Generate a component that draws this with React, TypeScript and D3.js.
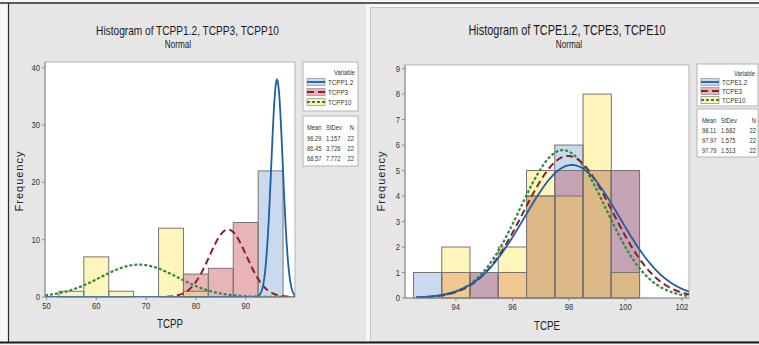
import React from 'react';
import * as d3 from 'd3';

// ---------- Left chart data ----------
const leftTitle = 'Histogram of TCPP1.2, TCPP3, TCPP10';
const leftXLabel = 'TCPP';
const leftBinStarts = [52.5, 57.5, 62.5, 67.5, 72.5, 77.5, 82.5, 87.5, 92.5];
const leftBinWidth = 5;
const tcpp12Counts = [0, 0, 0, 0, 0, 0, 0, 0, 22];
const tcpp3Counts = [0, 0, 0, 0, 0, 4, 5, 13, 0];
const tcpp10Counts = [1, 7, 1, 0, 12, 1, 0, 0, 0];
const leftVariables = ['TCPP1.2', 'TCPP3', 'TCPP10'];
const leftMeans = [96.29, 86.45, 68.57];
const leftStDevs = [1.157, 3.726, 7.772];
const leftN = [22, 22, 22];
const leftXTicks = [50, 60, 70, 80, 90];
const leftYTicks = [0, 10, 20, 30, 40];

// ---------- Right chart data ----------
const rightTitle = 'Histogram of TCPE1.2, TCPE3, TCPE10';
const rightXLabel = 'TCPE';
const rightBinStarts = [92.5, 93.5, 94.5, 95.5, 96.5, 97.5, 98.5, 99.5];
const rightBinWidth = 1;
const tcpe12Counts = [1, 0, 1, 0, 4, 6, 5, 5];
const tcpe3Counts = [0, 1, 1, 1, 4, 5, 5, 5];
const tcpe10Counts = [0, 2, 0, 2, 5, 4, 8, 1];
const rightVariables = ['TCPE1.2', 'TCPE3', 'TCPE10'];
const rightMeans = [98.11, 97.97, 97.79];
const rightStDevs = [1.682, 1.575, 1.513];
const rightN = [22, 22, 22];
const rightXTicks = [94, 96, 98, 100, 102];
const rightYTicks = [0, 1, 2, 3, 4, 5, 6, 7, 8, 9];

// ---------- styles ----------
const FONT = "'Liberation Sans', Arial, sans-serif";
const SX = 0.78; // horizontal condensing to imitate the narrow UI font
const LINE_COLORS = ['#1f5ea8', '#8e1d27', '#2c8a3c'];
const LINE_DASH = ['', '7,4', '3,2'];
const LINE_WIDTH = [1.8, 2, 2.2];
const SWATCH_FILL = ['#c9daef', '#e8b3b8', '#fbf3b6'];
const MASK_FILL: Record<number, string> = {
  1: '#c9daef',
  2: '#e7b4b7',
  4: '#fdf5b9',
  3: '#c6a2b5',
  5: '#d5e0c8',
  6: '#f1c892',
  7: '#dcb986',
};

function T(props: {
  x: number;
  y: number;
  size: number;
  anchor?: 'start' | 'middle' | 'end';
  fill?: string;
  sx?: number;
  children: React.ReactNode;
}) {
  const sx = props.sx ?? SX;
  return (
    <text
      transform={`translate(${props.x},${props.y}) scale(${sx},1)`}
      textAnchor={props.anchor || 'start'}
      fontSize={props.size}
      fill={props.fill || '#333'}
    >
      {props.children}
    </text>
  );
}

type PanelProps = {
  title: string;
  titleSize: number;
  cx: number;
  subX: number;
  xLabel: string;
  xLabelX: number;
  xLabelY: number;
  yLabelX: number;
  plot: { x0: number; x1: number; y0: number; y1: number };
  xDomain: [number, number];
  yDomain: [number, number];
  curveRange: [number, number];
  binStarts: number[];
  binWidth: number;
  counts: number[][];
  variables: string[];
  means: number[];
  stdevs: number[];
  ns: number[];
  xTicks: number[];
  yTicks: number[];
  legend: {
    x0: number; x1: number; y0: number; y1: number;
    varY: number; rowY: number[];
    sy0: number; sy1: number; headY: number; statY: number[];
    meanX: number; sdX: number; nX: number;
  };
  clipId: string;
};

function Panel(p: PanelProps) {
  const x = d3.scaleLinear().domain(p.xDomain).range([p.plot.x0, p.plot.x1]);
  const y = d3.scaleLinear().domain(p.yDomain).range([p.plot.y1, p.plot.y0]);

  const segs: { x: number; w: number; y: number; h: number; fill: string }[] = [];
  p.binStarts.forEach((b, i) => {
    const hs = p.counts.map((c) => c[i]);
    const levels = Array.from(new Set([0, ...hs])).sort((a, c) => a - c);
    for (let k = 1; k < levels.length; k++) {
      const lo = levels[k - 1];
      const hi = levels[k];
      let mask = 0;
      hs.forEach((h, s) => {
        if (h >= hi) mask |= 1 << s;
      });
      if (mask === 0) continue;
      segs.push({
        x: x(b),
        w: x(b + p.binWidth) - x(b),
        y: y(hi),
        h: y(lo) - y(hi),
        fill: MASK_FILL[mask],
      });
    }
  });

  const outlines: { x: number; w: number; y: number; h: number }[] = [];
  p.counts.forEach((c) => {
    c.forEach((h, i) => {
      if (h <= 0) return;
      const b = p.binStarts[i];
      outlines.push({ x: x(b), w: x(b + p.binWidth) - x(b), y: y(h), h: y(0) - y(h) });
    });
  });

  const curves = p.means.map((m, s) => {
    const sd = p.stdevs[s];
    const scale = p.ns[s] * p.binWidth;
    const xs = d3.range(0, 401).map(
      (k) => p.curveRange[0] + ((p.curveRange[1] - p.curveRange[0]) * k) / 400
    );
    const line = d3
      .line<number>()
      .x((v) => x(v))
      .y((v) => y((scale / (sd * Math.sqrt(2 * Math.PI))) * Math.exp(-0.5 * ((v - m) / sd) ** 2)));
    return line(xs) || '';
  });

  const L = p.legend;
  return (
    <g fontFamily={FONT}>
      <T x={p.cx} y={35} size={p.titleSize} anchor="middle" fill="#1a1a1a">
        {p.title}
      </T>
      <T x={p.subX} y={48} size={10.5} anchor="middle" fill="#1a1a1a">
        Normal
      </T>
      <defs>
        <clipPath id={p.clipId}>
          <rect x={p.plot.x0} y={p.plot.y0} width={p.plot.x1 - p.plot.x0} height={p.plot.y1 - p.plot.y0} />
        </clipPath>
      </defs>
      <rect
        x={p.plot.x0}
        y={p.plot.y0}
        width={p.plot.x1 - p.plot.x0}
        height={p.plot.y1 - p.plot.y0}
        fill="#ffffff"
        stroke="#b4b4b4"
      />
      {segs.map((s, i) => (
        <rect key={'s' + i} x={s.x} y={s.y} width={s.w} height={s.h} fill={s.fill} />
      ))}
      {outlines.map((o, i) => (
        <rect key={'o' + i} x={o.x} y={o.y} width={o.w} height={o.h} fill="none" stroke="#7a7470" strokeWidth={1} />
      ))}
      <g clipPath={`url(#${p.clipId})`}>
        {curves
          .map((d, s) => (
            <path
              key={'c' + s}
              d={d}
              fill="none"
              stroke={LINE_COLORS[s]}
              strokeWidth={LINE_WIDTH[s]}
              strokeDasharray={LINE_DASH[s] || undefined}
            />
          ))
          .reverse()}
      </g>
      <line x1={p.plot.x0} x2={p.plot.x1} y1={p.plot.y1} y2={p.plot.y1} stroke="#8c8c8c" />
      <line x1={p.plot.x0} x2={p.plot.x0} y1={p.plot.y0} y2={p.plot.y1} stroke="#8c8c8c" />
      {p.xTicks.map((t) => (
        <g key={'xt' + t}>
          <line x1={x(t)} x2={x(t)} y1={p.plot.y1} y2={p.plot.y1 + 3} stroke="#8c8c8c" />
          <T x={x(t)} y={p.plot.y1 + 12} size={9} anchor="middle" sx={0.85}>
            {t}
          </T>
        </g>
      ))}
      {p.yTicks.map((t) => (
        <g key={'yt' + t}>
          <line x1={p.plot.x0 - 3} x2={p.plot.x0} y1={y(t)} y2={y(t)} stroke="#8c8c8c" />
          <T x={p.plot.x0 - 5} y={y(t) + 3} size={9} anchor="end" sx={0.85}>
            {t}
          </T>
        </g>
      ))}
      <T x={p.xLabelX} y={p.xLabelY} size={12.5} anchor="middle" fill="#222">
        {p.xLabel}
      </T>
      <text
        transform={`translate(${p.yLabelX},181) rotate(-90)`}
        textAnchor="middle"
        fontSize={11}
        letterSpacing={1}
        fill="#222"
      >
        Frequency
      </text>
      {/* legend */}
      <rect x={L.x0} y={L.y0} width={L.x1 - L.x0} height={L.y1 - L.y0} fill="#fff" stroke="#b4b4b4" />
      <T x={L.x1 - 3} y={L.varY} size={7.5} anchor="end">
        Variable
      </T>
      {p.variables.map((v, s) => (
        <g key={'lg' + s}>
          <rect x={L.x0 + 4} y={L.rowY[s] - 3.5} width={18} height={7} fill={SWATCH_FILL[s]} stroke="#9a9a9a" strokeWidth={0.8} />
          <line
            x1={L.x0 + 4}
            x2={L.x0 + 22}
            y1={L.rowY[s]}
            y2={L.rowY[s]}
            stroke={LINE_COLORS[s]}
            strokeWidth={1.8}
            strokeDasharray={LINE_DASH[s] || undefined}
          />
          <T x={L.x0 + 25} y={L.rowY[s] + 3} size={8}>
            {v}
          </T>
        </g>
      ))}
      <rect x={L.x0} y={L.sy0} width={L.x1 - L.x0} height={L.sy1 - L.sy0} fill="#fff" stroke="#b4b4b4" />
      <T x={L.meanX} y={L.headY} size={7.5}>Mean</T>
      <T x={L.sdX} y={L.headY} size={7.5}>StDev</T>
      <T x={L.nX} y={L.headY} size={7.5} anchor="end">N</T>
      {p.means.map((m, s) => (
        <g key={'st' + s}>
          <T x={L.meanX} y={L.statY[s]} size={7.5}>{m.toFixed(2)}</T>
          <T x={L.sdX} y={L.statY[s]} size={7.5}>{p.stdevs[s].toFixed(3)}</T>
          <T x={L.nX} y={L.statY[s]} size={7.5} anchor="end">{p.ns[s]}</T>
        </g>
      ))}
    </g>
  );
}

export default function App() {
  return (
    <svg
      width={759}
      height={345}
      style={{ position: 'absolute', left: 0, top: 0, display: 'block' }}
      xmlns="http://www.w3.org/2000/svg"
    >
      <rect x={0} y={0} width={759} height={345} fill="#f6f6f6" />
      <rect x={8} y={3} width={358} height={339} fill="#e6e6e6" />
      <rect x={370.5} y={7.5} width={390} height={334} fill="#e6e6e6" stroke="#c4c4c4" />
      <line x1={0} x2={759} y1={3} y2={3} stroke="#2a2a2a" strokeWidth={1.5} />
      <line x1={0} x2={759} y1={342.5} y2={342.5} stroke="#1a1a1a" strokeWidth={2} />
      <line x1={8.5} x2={8.5} y1={3} y2={343} stroke="#2a2a2a" strokeWidth={1.2} />
      <Panel
        title={leftTitle}
        titleSize={13}
        cx={187.5}
        subX={178}
        xLabel={leftXLabel}
        xLabelX={170}
        xLabelY={328}
        yLabelX={23}
        plot={{ x0: 45, x1: 295, y0: 62, y1: 297 }}
        xDomain={[49.7, 99.9]}
        yDomain={[0, 41]}
        curveRange={[49.7, 99.9]}
        binStarts={leftBinStarts}
        binWidth={leftBinWidth}
        counts={[tcpp12Counts, tcpp3Counts, tcpp10Counts]}
        variables={leftVariables}
        means={leftMeans}
        stdevs={leftStDevs}
        ns={leftN}
        xTicks={leftXTicks}
        yTicks={leftYTicks}
        legend={{
          x0: 303, x1: 358, y0: 62, y1: 111,
          varY: 75, rowY: [82, 92, 102],
          sy0: 116, sy1: 166, headY: 130, statY: [141, 151, 161],
          meanX: 307, sdX: 326, nX: 354,
        }}
        clipId="clipL"
      />
      <Panel
        title={rightTitle}
        titleSize={14}
        cx={567}
        subX={569}
        xLabel={rightXLabel}
        xLabelX={547}
        xLabelY={330}
        yLabelX={385}
        plot={{ x0: 405, x1: 689, y0: 65, y1: 298 }}
        xDomain={[92.2, 102.25]}
        yDomain={[0, 9.14]}
        curveRange={[92.6, 102.25]}
        binStarts={rightBinStarts}
        binWidth={rightBinWidth}
        counts={[tcpe12Counts, tcpe3Counts, tcpe10Counts]}
        variables={rightVariables}
        means={rightMeans}
        stdevs={rightStDevs}
        ns={rightN}
        xTicks={rightXTicks}
        yTicks={rightYTicks}
        legend={{
          x0: 697, x1: 758, y0: 64, y1: 106,
          varY: 76, rowY: [82, 91, 100],
          sy0: 109, sy1: 157, headY: 123, statY: [133, 143, 153],
          meanX: 702, sdX: 721, nX: 756,
        }}
        clipId="clipR"
      />
    </svg>
  );
}
